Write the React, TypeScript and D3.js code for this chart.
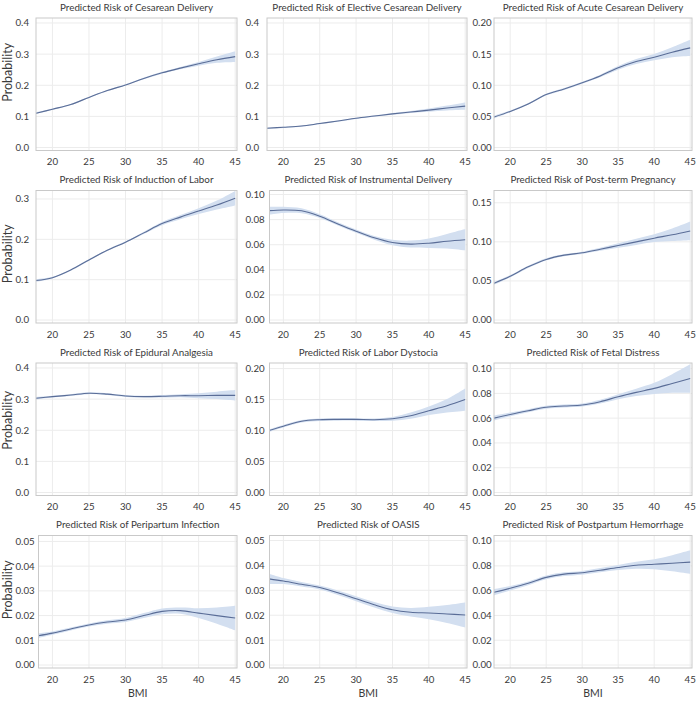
import React from "react";
import * as d3 from "d3";

const bmi = [17.75, 20, 22.5, 25, 27.5, 30, 32.5, 35, 37.5, 40, 42.5, 45];
const xTicks = [20, 25, 30, 35, 40, 45];

const titles = [
  "Predicted Risk of Cesarean Delivery",
  "Predicted Risk of Elective Cesarean Delivery",
  "Predicted Risk of Acute Cesarean Delivery",
  "Predicted Risk of Induction of Labor",
  "Predicted Risk of Instrumental Delivery",
  "Predicted Risk of Post-term Pregnancy",
  "Predicted Risk of Epidural Analgesia",
  "Predicted Risk of Labor Dystocia",
  "Predicted Risk of Fetal Distress",
  "Predicted Risk of Peripartum Infection",
  "Predicted Risk of OASIS",
  "Predicted Risk of Postpartum Hemorrhage",
];

const cesarean = [0.110, 0.123, 0.138, 0.161, 0.183, 0.201, 0.222, 0.240, 0.255, 0.269, 0.282, 0.292];
const cesareanCI = [0.003, 0.002, 0.002, 0.002, 0.002, 0.002, 0.003, 0.003, 0.004, 0.006, 0.010, 0.017];
const elective = [0.062, 0.065, 0.069, 0.077, 0.085, 0.094, 0.101, 0.108, 0.114, 0.120, 0.127, 0.133];
const electiveCI = [0.002, 0.002, 0.002, 0.002, 0.002, 0.002, 0.002, 0.003, 0.003, 0.005, 0.008, 0.012];
const acute = [0.049, 0.058, 0.070, 0.085, 0.094, 0.104, 0.115, 0.128, 0.138, 0.145, 0.153, 0.160];
const acuteCI = [0.002, 0.0015, 0.0015, 0.0015, 0.0015, 0.0015, 0.002, 0.003, 0.004, 0.005, 0.008, 0.013];
const induction = [0.098, 0.105, 0.124, 0.149, 0.173, 0.193, 0.216, 0.239, 0.255, 0.270, 0.285, 0.302];
const inductionCI = [0.003, 0.002, 0.002, 0.002, 0.002, 0.002, 0.003, 0.004, 0.005, 0.007, 0.011, 0.018];
const instrumental = [0.087, 0.0877, 0.087, 0.0827, 0.0766, 0.0708, 0.0655, 0.0618, 0.0605, 0.0612, 0.0628, 0.064];
const instrumentalCI = [0.0033, 0.0025, 0.002, 0.0015, 0.0013, 0.0013, 0.0015, 0.0022, 0.0028, 0.0038, 0.0058, 0.0085];
const postterm = [0.047, 0.056, 0.068, 0.0775, 0.083, 0.086, 0.0905, 0.0953, 0.100, 0.1047, 0.109, 0.114];
const posttermCI = [0.002, 0.0015, 0.0015, 0.0015, 0.0015, 0.0015, 0.002, 0.003, 0.004, 0.005, 0.008, 0.012];
const epidural = [0.303, 0.308, 0.313, 0.319, 0.316, 0.310, 0.308, 0.309, 0.311, 0.311, 0.312, 0.312];
const epiduralCI = [0.004, 0.003, 0.003, 0.003, 0.003, 0.003, 0.003, 0.004, 0.005, 0.008, 0.012, 0.017];
const dystocia = [0.099, 0.107, 0.115, 0.1175, 0.118, 0.118, 0.1175, 0.119, 0.124, 0.132, 0.140, 0.150];
const dystociaCI = [0.002, 0.002, 0.002, 0.002, 0.002, 0.002, 0.002, 0.003, 0.005, 0.007, 0.011, 0.018];
const fetal = [0.060, 0.063, 0.066, 0.0688, 0.0698, 0.0706, 0.0733, 0.0773, 0.0808, 0.084, 0.088, 0.092];
const fetalCI = [0.002, 0.0015, 0.0012, 0.0012, 0.0012, 0.0012, 0.0015, 0.002, 0.003, 0.0045, 0.0075, 0.0115];
const infection = [0.0117, 0.0129, 0.0146, 0.0162, 0.0174, 0.0182, 0.0200, 0.0217, 0.0220, 0.0210, 0.0200, 0.0190];
const infectionCI = [0.001, 0.0007, 0.0006, 0.0006, 0.0007, 0.0008, 0.001, 0.0012, 0.0013, 0.002, 0.0033, 0.005];
const oasis = [0.0347, 0.0337, 0.0324, 0.0311, 0.029, 0.0266, 0.0242, 0.0222, 0.0212, 0.0209, 0.0205, 0.0201];
const oasisCI = [0.0022, 0.0012, 0.0009, 0.0008, 0.0009, 0.001, 0.0011, 0.0013, 0.0017, 0.0025, 0.0036, 0.005];
const pph = [0.0587, 0.0619, 0.0659, 0.0707, 0.0733, 0.0744, 0.0765, 0.0787, 0.0805, 0.0813, 0.0821, 0.083];
const pphCI = [0.0025, 0.0018, 0.0015, 0.0015, 0.0015, 0.0015, 0.0017, 0.002, 0.0028, 0.004, 0.0065, 0.0095];

const estimates = [cesarean, elective, acute, induction, instrumental, postterm, epidural, dystocia, fetal, infection, oasis, pph];
const halfWidths = [cesareanCI, electiveCI, acuteCI, inductionCI, instrumentalCI, posttermCI, epiduralCI, dystociaCI, fetalCI, infectionCI, oasisCI, pphCI];

const yTickMax = [0.4, 0.4, 0.2, 0.3, 0.1, 0.15, 0.4, 0.2, 0.1, 0.05, 0.05, 0.1];
const yTickStep = [0.1, 0.1, 0.05, 0.1, 0.02, 0.05, 0.1, 0.05, 0.02, 0.01, 0.01, 0.02];
const yDomainMax = [0.416, 0.416, 0.208, 0.321, 0.1032, 0.1657, 0.416, 0.209, 0.1045, 0.0524, 0.052, 0.1045];
const yDecimals = [1, 1, 2, 1, 2, 2, 1, 2, 2, 2, 2, 2];

const colLeft = [36, 267, 494];
const colRight = [237, 467, 692];
const labelLeft = [15.5, 245.5, 472.5];
const rowTop = [18, 190.5, 363, 535.5];
const frameH = 132.5;
const probOffset = [-12, -3, -9, -12];

const FONT = "Lato, 'Open Sans', sans-serif";
const TEXT = "#3a3a3a";
const LINE = "#5a6d97";
const BAND = "#d3dff0";
const GRID = "#ececec";
const FRAME = "#c9c9c9";

function Panel({ i }: { i: number }) {
  const row = Math.floor(i / 3);
  const col = i % 3;
  const baseL = colLeft[col];
  const L = col < 2 && yDecimals[i] === 2 ? baseL + 2.5 : baseL;
  const R = colRight[col];
  const T = rowTop[row];
  const B = T + frameH;
  const hi = yDomainMax[i];
  const x = d3.scaleLinear().domain([17.75, 45.25]).range([baseL, R]);
  const y = d3.scaleLinear().domain([-0.023 * hi, hi]).range([B, T]);
  const est = estimates[i];
  const hw = halfWidths[i];
  const pts = bmi.map((b, k) => ({ b, e: est[k], lo: est[k] - hw[k], up: est[k] + hw[k] }));
  const curve = d3.curveCatmullRom.alpha(0.5);
  const area = d3
    .area<any>()
    .x((d) => x(d.b))
    .y0((d) => y(d.lo))
    .y1((d) => y(d.up))
    .curve(curve);
  const line = d3
    .line<any>()
    .x((d) => x(d.b))
    .y((d) => y(d.e))
    .curve(curve);
  const nT = Math.round(yTickMax[i] / yTickStep[i]);
  const yTicks = d3.range(nT + 1).map((k) => k * yTickStep[i]);
  const clipId = `clip${i}`;
  return (
    <g>
      <defs>
        <clipPath id={clipId}>
          <rect x={L} y={T} width={R - L} height={B - T} />
        </clipPath>
      </defs>
      {yTicks.map((t) => (
        <line key={"gy" + t} x1={L} x2={R} y1={y(t)} y2={y(t)} stroke={GRID} strokeWidth={1} />
      ))}
      {xTicks.map((t) => (
        <line key={"gx" + t} x1={x(t)} x2={x(t)} y1={T} y2={B} stroke={GRID} strokeWidth={1} />
      ))}
      <g clipPath={`url(#${clipId})`}>
        <path d={area(pts) || ""} fill={BAND} stroke="none" />
        <path d={line(pts) || ""} fill="none" stroke={LINE} strokeWidth={1.1} />
      </g>
      <rect x={L} y={T} width={R - L} height={B - T} fill="none" stroke={FRAME} strokeWidth={1} />
      {yTicks.map((t) => (
        <text key={"ty" + t} x={labelLeft[col]} y={y(t)} dy="0.35em" textAnchor="start" fontSize={9.7} fill={TEXT} fontFamily={FONT}>
          {t.toFixed(yDecimals[i])}
        </text>
      ))}
      {xTicks.map((t) => (
        <text key={"tx" + t} x={x(t)} y={B + 14.5} textAnchor="middle" fontSize={9.7} fill={TEXT} fontFamily={FONT}>
          {t}
        </text>
      ))}
      <text x={(L + R) / 2} y={T - 7.5} textAnchor="middle" fontSize={9.8} fill={TEXT} fontFamily={FONT}>
        {titles[i]}
      </text>
      {col === 0 && (
        <text
          transform={`translate(12,${(T + B) / 2 + probOffset[row]}) rotate(-90)`}
          textAnchor="middle"
          fontSize={12.5}
          fill={TEXT}
          fontFamily={FONT}
        >
          Probability
        </text>
      )}
      {row === 3 && (
        <text x={(L + R) / 2} y={B + 29} textAnchor="middle" fontSize={10.5} fill={TEXT} fontFamily={FONT}>
          BMI
        </text>
      )}
    </g>
  );
}

export default function App() {
  return (
    <svg
      width={700}
      height={702}
      style={{ position: "absolute", left: 0, top: 0, background: "#fff" }}
    >
      <rect width={700} height={702} fill="#fff" />
      {titles.map((_, i) => (
        <Panel key={i} i={i} />
      ))}
    </svg>
  );
}
